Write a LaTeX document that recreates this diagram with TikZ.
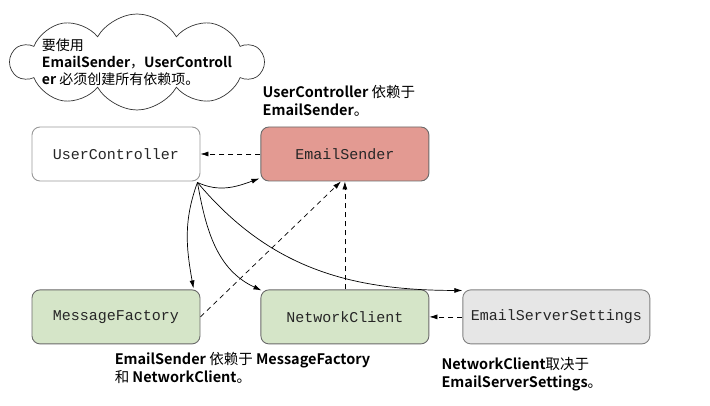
\documentclass[tikz,border=0pt]{standalone}
\usepackage{fontspec}
\setmonofont{Liberation Mono}
\newfontfamily\cjk{Noto Sans CJK SC}[BoldFont={* Bold}]
\usepackage{xcolor}
\definecolor{senderRed}{HTML}{E39A92}
\definecolor{depGreen}{HTML}{D5E5C8}
\definecolor{settingsGray}{HTML}{E6E6E6}
\definecolor{boxLine}{HTML}{6A6A6A}
\usepackage{tikz}
\usetikzlibrary{arrows.meta,positioning,shapes.symbols}

\begin{document}
\begin{tikzpicture}[x=1pt,y=1pt,
  box/.style={draw=boxLine,rounded corners=8pt,fill=white,minimum width=168pt,minimum height=54pt,inner sep=2pt,font=\ttfamily\fontsize{15}{18}\selectfont,text=black!85,line width=0.9pt},
  dep/.style={box,fill=depGreen},
  note/.style={font=\cjk\fontsize{14.5}{17.5}\selectfont,align=left,inner sep=0pt},
  arr/.style={-{Latex[length=8pt,width=5pt]},line width=0.7pt},
  darr/.style={arr,dash pattern=on 5pt off 4pt},
  node distance=108pt and 60pt
]
\useasboundingbox (0,0) rectangle (710,406);
\node[box,draw=black!40] (uc) at (116,252) {UserController};
\node[box,fill=senderRed,right=of uc] (es) {EmailSender};
\node[dep,below=of uc] (mf) {MessageFactory};
\node[dep,below=of es] (nc) {NetworkClient};
\node[box,fill=settingsGray,draw=black!50,minimum width=187pt,right=33pt of nc] (ess) {EmailServerSettings};
\node[cloud,cloud ignores aspect,draw=black!80,line width=0.7pt,cloud puffs=10,cloud puff arc=120,note,inner xsep=-20pt,inner ysep=-15pt,minimum width=252pt,minimum height=96pt,font=\cjk\fontsize{14}{17}\selectfont] (bubble) at (137,344)
  {要使用\\\textbf{EmailSender}，\textbf{UserControll}\\\textbf{er} 必须创建所有依赖项。};
\node[note,anchor=south west] (ucNote) at ([xshift=2pt,yshift=10pt]es.north west) {\textbf{UserController} 依赖于\\\textbf{EmailSender}。};
\node[note,anchor=north west] (mfNote) at ([xshift=83pt,yshift=-8pt]mf.south west) {\textbf{EmailSender} 依赖于 \textbf{MessageFactory}\\和 \textbf{NetworkClient}。};
\node[note,anchor=north west] (essNote) at ([xshift=-21pt,yshift=-13pt]ess.south west) {\textbf{NetworkClient}取决于\\\textbf{EmailServerSettings}。};
\coordinate (hub) at ([xshift=-3pt,yshift=-1pt]uc.south east);
% dependencies, dashed
\draw[darr] (es) -- (uc);
\draw[darr] (mf.east) -- ([xshift=-4pt]es.south);
\draw[darr] (nc) -- (es);
\draw[darr] (ess) -- (nc);
% UserController creates everything
\draw[arr] (hub) to[out=-25,in=200] ([xshift=-1pt,yshift=3pt]es.south west);
\draw[arr] (hub) to[out=-110,in=100] ([xshift=-7pt,yshift=1pt]mf.north east);
\draw[arr] (hub) to[out=-80,in=155] ([xshift=1pt,yshift=-1pt]nc.north west);
\draw[arr] (hub) to[out=-50,in=180] ([yshift=-1pt]ess.north west);
\end{tikzpicture}
\end{document}
